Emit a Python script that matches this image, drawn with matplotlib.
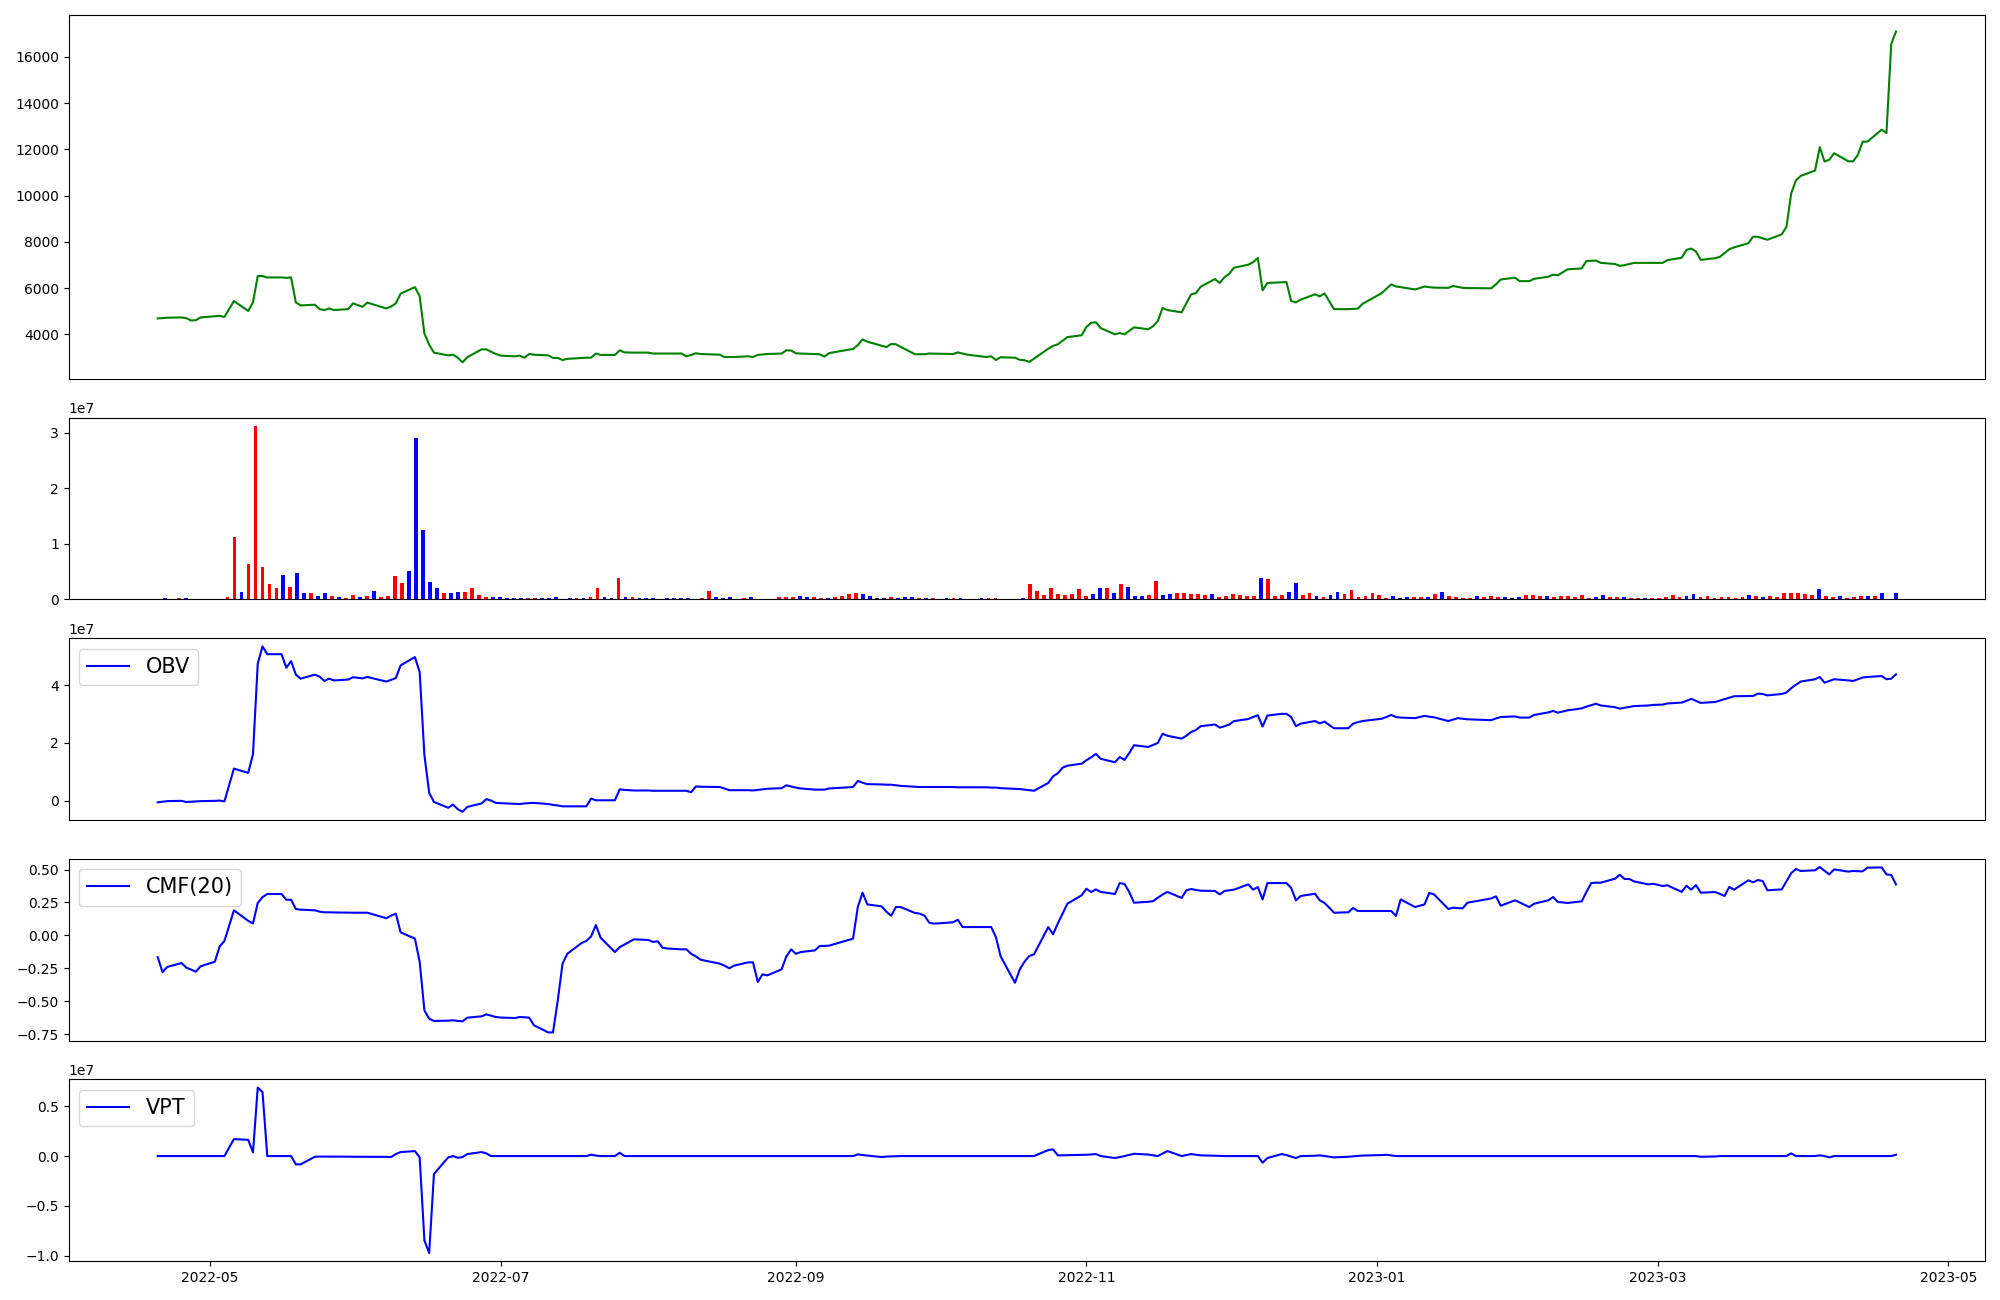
import numpy as np
import pandas as pd
import matplotlib
matplotlib.use("Agg")
import matplotlib.pyplot as plt

start_date = "2022-04-20"
end_date = "2023-04-20"
# exchange holidays (no trading) inside the period
holidays = ["2022-05-05", "2022-06-01", "2022-06-06", "2022-08-15",
            "2022-09-09", "2022-09-12", "2022-10-03", "2022-10-10",
            "2022-12-30", "2023-01-23", "2023-01-24", "2023-03-01"]

close = [
    4690, 4700, 4720, 4730, 4700, 4600, 4610, 4730, 4780, 4800,
    4750, 5440, 5010, 5380, 6520, 6520, 6460, 6460, 6440, 6460,
    5380, 5250, 5280, 5090, 5050, 5120, 5050, 5090, 5340, 5190,
    5370, 5120, 5200, 5340, 5760, 6040, 5650, 4030, 3550, 3210,
    3090, 3120, 2990, 2790, 3010, 3350, 3350, 3250, 3150, 3080,
    3050, 3080, 2990, 3150, 3120, 3090, 2980, 2980, 2890, 2940,
    2980, 2990, 2990, 3170, 3110, 3110, 3310, 3220, 3215, 3210,
    3210, 3170, 3170, 3170, 3170, 3170, 3050, 3110, 3180, 3150,
    3120, 3020, 3020, 3020, 3050, 3020, 3110, 3130, 3150, 3170,
    3310, 3300, 3180, 3170, 3150, 3140, 3040, 3190, 3370, 3530,
    3780, 3680, 3510, 3450, 3580, 3570, 3460, 3140, 3140, 3140,
    3170, 3165, 3150, 3220, 3170, 3120, 3020, 3050, 2890, 3010,
    2990, 2900, 2880, 2810, 2950, 3380, 3500, 3570, 3720, 3880,
    3960, 4320, 4500, 4520, 4270, 4000, 4060, 4000, 4150, 4300,
    4220, 4350, 4580, 5140, 5050, 4950, 5350, 5730, 5780, 6060,
    6390, 6220, 6470, 6620, 6880, 7010, 7120, 7300, 5900, 6220,
    6250, 6260, 5440, 5380, 5500, 5730, 5640, 5770, 5430, 5090,
    5090, 5100, 5110, 5320, 5780, 5970, 6160, 6070, 6040, 5940,
    6000, 6070, 6040, 6020, 6010, 6090, 6050, 6010, 6000, 5990,
    6160, 6370, 6450, 6300, 6300, 6300, 6400, 6490, 6580, 6550,
    6680, 6810, 6850, 7170, 7180, 7190, 7090, 7040, 6960, 6990,
    7040, 7090, 7090, 7090, 7090, 7210, 7310, 7650, 7710, 7580,
    7220, 7290, 7350, 7510, 7680, 7760, 7940, 8220, 8220, 8150,
    8090, 8320, 8650, 10100, 10660, 10850, 11080, 12090, 11470, 11550,
    11830, 11480, 11480, 11760, 12330, 12330, 12850, 12700, 16550, 17090,
]

# volume in millions of shares
volume_m = [
    0, 0.24, 0, 0.24, 0.24, 0, 0, 0, 0, 0,
    0.4, 11.2, 1.3, 6.4, 31.2, 5.8, 2.8, 2.0, 4.4, 2.2,
    4.7, 1.1, 1.1, 0.6, 1.1, 0.6, 0.4, 0.2, 0.8, 0.4,
    0.6, 1.5, 0.4, 0.6, 4.2, 2.9, 5.1, 29.1, 12.5, 3.1,
    2.0, 1.1, 1.1, 1.3, 1.3, 2.0, 0.8, 0.4, 0.4, 0.4,
    0.2, 0.2, 0.2, 0.2, 0.2, 0.2, 0.2, 0.4, 0, 0.2,
    0.2, 0.2, 0.4, 2.0, 0.4, 0.2, 3.8, 0.4, 0.4, 0.2,
    0.2, 0.2, 0, 0.2, 0.2, 0.2, 0.2, 0, 0.2, 1.5,
    0.4, 0.2, 0.4, 0, 0.2, 0.4, 0, 0, 0, 0.4,
    0.4, 0.4, 0.6, 0.4, 0.4, 0.2, 0.2, 0.4, 0.6, 1.0,
    1.1, 1.0, 0.6, 0.2, 0.2, 0.4, 0.2, 0.4, 0.4, 0.2,
    0.2, 0.2, 0, 0.2, 0.2, 0.2, 0, 0, 0.2, 0.2,
    0.2, 0, 0, 0, 0.2, 2.8, 1.5, 0.8, 2.0, 1.0,
    0.8, 1.0, 1.9, 0.6, 1.0, 2.0, 2.0, 1.1, 2.8, 2.2,
    0.6, 0.6, 0.8, 3.3, 0.8, 1.0, 1.1, 1.1, 1.0, 1.0,
    0.8, 1.0, 0.4, 0.6, 1.0, 0.8, 0.6, 0.6, 3.8, 3.7,
    0.6, 0.8, 1.3, 2.9, 0.8, 1.1, 0.6, 0.4, 0.8, 1.3,
    1.0, 1.7, 0.4, 0.6, 1.1, 0.8, 0.2, 0.6, 0.2, 0.4,
    0.4, 0.4, 0.4, 1.0, 1.3, 0.6, 0.4, 0.2, 0.2, 0.6,
    0.4, 0.6, 0.4, 0.4, 0.2, 0.4, 0.8, 0.8, 0.6, 0.6,
    0.4, 0.6, 0.6, 0.4, 0.8, 0.2, 0.4, 0.8, 0.4, 0.4,
    0.4, 0.2, 0.2, 0.2, 0.2, 0.2, 0.4, 0.8, 0.4, 0.6,
    1.0, 0.4, 0.6, 0.2, 0.4, 0.4, 0.2, 0.4, 0.8, 0.6,
    0.4, 0.6, 0.4, 1.1, 1.1, 1.1, 1.0, 0.8, 1.9, 0.6,
    0.4, 0.6, 0.2, 0.4, 0.6, 0.6, 0.6, 1.1, 0, 1.1,
]

# 1 = up day (red), -1 = down day (blue), 0 = unchanged (black)
bar_dir = [
    0, -1, 0, 1, -1, 0, 0, 0, 0, 0,
    1, 1, -1, 1, 1, 1, 1, 1, -1, 1,
    -1, -1, 1, -1, -1, 1, -1, 1, 1, -1,
    1, -1, 1, 1, 1, 1, -1, -1, -1, -1,
    -1, 1, -1, -1, 1, 1, 1, 1, -1, -1,
    -1, -1, -1, 1, 1, -1, -1, -1, 0, -1,
    1, -1, 1, 1, -1, -1, 1, -1, 1, -1,
    -1, -1, 0, -1, -1, -1, -1, 0, 1, 1,
    -1, -1, -1, 0, 1, -1, 0, 0, 0, 1,
    1, 1, -1, -1, 1, 1, -1, 1, 1, 1,
    1, -1, -1, 0, -1, 1, -1, -1, -1, 1,
    -1, 1, 0, -1, 1, -1, 0, 0, -1, 1,
    1, 0, 0, 0, -1, 1, 1, 1, 1, 1,
    1, 1, 1, 1, -1, -1, 1, -1, 1, -1,
    -1, -1, 1, 1, -1, -1, 1, 1, 1, 1,
    1, -1, 1, 1, 1, 1, 1, 1, -1, 1,
    1, 1, -1, -1, 1, 1, -1, 1, -1, -1,
    1, 1, 1, 1, 1, 1, 1, -1, 0, -1,
    1, 1, -1, 1, -1, 1, 1, 1, 1, -1,
    1, 1, 1, -1, 0, -1, 1, 1, 1, -1,
    1, 1, 1, 1, 1, 1, -1, -1, 1, 1,
    -1, 1, 1, -1, 1, 1, 1, 1, 1, -1,
    -1, 1, 1, 1, 1, 1, 1, 1, -1, 1,
    -1, 1, 1, 1, 1, 1, 1, 1, -1, 1,
    1, -1, 1, 1, 1, -1, 1, -1, 0, -1,
]

# OBV in units of 1e7
obv_e7 = [
    -0.06, -0.04, -0.02, -0.01, -0.05, -0.04, -0.03, -0.02, -0.01, 0.0,
    -0.03, 1.11, 0.96, 1.61, 4.75, 5.35, 5.08, 5.08, 4.61, 4.84,
    4.37, 4.23, 4.37, 4.30, 4.15, 4.23, 4.17, 4.20, 4.28, 4.24,
    4.29, 4.13, 4.19, 4.25, 4.69, 4.98, 4.46, 1.57, 0.27, -0.05,
    -0.25, -0.14, -0.30, -0.39, -0.22, -0.10, 0.05, 0.0, -0.08, -0.09,
    -0.11, -0.12, -0.10, -0.09, -0.08, -0.12, -0.15, -0.17, -0.20, -0.20,
    -0.20, -0.20, 0.07, 0.01, 0.01, 0.01, 0.39, 0.37, 0.36, 0.35,
    0.35, 0.34, 0.34, 0.34, 0.34, 0.34, 0.34, 0.29, 0.49, 0.48,
    0.47, 0.42, 0.36, 0.36, 0.36, 0.35, 0.37, 0.39, 0.41, 0.43,
    0.53, 0.49, 0.45, 0.42, 0.38, 0.38, 0.38, 0.42, 0.47, 0.68,
    0.62, 0.57, 0.56, 0.55, 0.55, 0.53, 0.51, 0.48, 0.47, 0.47,
    0.47, 0.47, 0.47, 0.46, 0.46, 0.46, 0.46, 0.45, 0.45, 0.43,
    0.41, 0.40, 0.38, 0.36, 0.34, 0.61, 0.84, 0.95, 1.14, 1.21,
    1.28, 1.40, 1.50, 1.62, 1.45, 1.33, 1.51, 1.41, 1.65, 1.92,
    1.86, 1.93, 2.00, 2.32, 2.25, 2.15, 2.25, 2.38, 2.45, 2.58,
    2.64, 2.53, 2.58, 2.64, 2.76, 2.83, 2.90, 2.96, 2.57, 2.95,
    3.01, 3.01, 2.90, 2.58, 2.67, 2.76, 2.68, 2.74, 2.62, 2.51,
    2.51, 2.67, 2.72, 2.76, 2.84, 2.90, 2.97, 2.90, 2.88, 2.86,
    2.90, 2.94, 2.91, 2.89, 2.76, 2.81, 2.86, 2.84, 2.82, 2.79,
    2.85, 2.90, 2.92, 2.88, 2.88, 2.88, 2.97, 3.06, 3.11, 3.05,
    3.09, 3.13, 3.20, 3.26, 3.31, 3.36, 3.30, 3.24, 3.19, 3.22,
    3.25, 3.28, 3.30, 3.32, 3.33, 3.37, 3.40, 3.46, 3.53, 3.46,
    3.39, 3.42, 3.47, 3.52, 3.57, 3.62, 3.63, 3.63, 3.71, 3.70,
    3.65, 3.70, 3.75, 3.90, 4.02, 4.13, 4.21, 4.29, 4.09, 4.15,
    4.21, 4.17, 4.15, 4.21, 4.27, 4.29, 4.32, 4.21, 4.23, 4.38,
]

cmf20 = [
    -0.165, -0.28, -0.24, -0.21, -0.245, -0.26, -0.276, -0.235, -0.20, -0.084,
    -0.043, 0.19, 0.11, 0.09, 0.246, 0.29, 0.314, 0.314, 0.27, 0.27,
    0.20, 0.195, 0.19, 0.18, 0.175, 0.175, 0.174, 0.172, 0.172, 0.172,
    0.172, 0.13, 0.15, 0.165, 0.023, -0.025, -0.20, -0.57, -0.633, -0.65,
    -0.648, -0.645, -0.65, -0.653, -0.625, -0.615, -0.60, -0.61, -0.62, -0.624,
    -0.628, -0.62, -0.622, -0.625, -0.683, -0.737, -0.737, -0.494, -0.215, -0.14,
    -0.058, -0.043, -0.008, 0.078, -0.018, -0.127, -0.089, -0.07, -0.05, -0.03,
    -0.035, -0.05, -0.045, -0.094, -0.10, -0.106, -0.106, -0.14, -0.16, -0.185,
    -0.215, -0.23, -0.25, -0.23, -0.205, -0.205, -0.354, -0.296, -0.304, -0.258,
    -0.16, -0.106, -0.14, -0.127, -0.114, -0.081, -0.08, -0.078, -0.025, 0.215,
    0.324, 0.235, 0.22, 0.18, 0.149, 0.215, 0.215, 0.17, 0.165, 0.15,
    0.096, 0.089, 0.099, 0.119, 0.063, 0.063, 0.063, 0.063, -0.013, -0.16,
    -0.36, -0.26, -0.20, -0.157, -0.144, 0.063, 0.008, 0.09, 0.165, 0.24,
    0.304, 0.354, 0.329, 0.349, 0.33, 0.314, 0.397, 0.39, 0.329, 0.248,
    0.255, 0.26, 0.286, 0.31, 0.33, 0.284, 0.342, 0.352, 0.345, 0.339,
    0.337, 0.311, 0.337, 0.342, 0.347, 0.387, 0.347, 0.367, 0.273, 0.397,
    0.397, 0.397, 0.36, 0.266, 0.299, 0.316, 0.266, 0.246, 0.21, 0.172,
    0.175, 0.208, 0.185, 0.185, 0.185, 0.185, 0.185, 0.147, 0.273, 0.215,
    0.225, 0.235, 0.322, 0.311, 0.20, 0.21, 0.207, 0.205, 0.248, 0.28,
    0.296, 0.225, 0.266, 0.25, 0.232, 0.215, 0.24, 0.266, 0.291, 0.253,
    0.25, 0.246, 0.258, 0.33, 0.397, 0.40, 0.40, 0.43, 0.46, 0.428,
    0.428, 0.41, 0.387, 0.392, 0.375, 0.38, 0.33, 0.377, 0.347, 0.382,
    0.324, 0.329, 0.315, 0.299, 0.367, 0.347, 0.418, 0.403, 0.42, 0.413,
    0.342, 0.349, 0.41, 0.473, 0.504, 0.489, 0.494, 0.519, 0.49, 0.463,
    0.501, 0.484, 0.489, 0.487, 0.486, 0.514, 0.516, 0.463, 0.458, 0.387,
]

# VPT in units of 1e7
vpt_e7 = [
    0, 0, 0, 0, 0, 0, 0, 0, 0, 0,
    0, 0.17, 0.163, 0.037, 0.687, 0.643, 0, 0, 0, 0,
    -0.083, -0.083, -0.007, -0.005, -0.005, -0.005, -0.006, -0.006, -0.007, -0.007,
    -0.008, -0.008, -0.01, 0.02, 0.04, 0.05, -0.013, -0.847, -0.973, -0.18,
    -0.013, 0, -0.017, -0.01, 0.02, 0.04, 0.027, 0, 0, 0,
    0, 0, 0, 0, 0, 0, 0, 0, 0, 0,
    0, 0, 0.013, 0.005, 0, 0, 0.033, 0, 0, 0,
    0, 0, 0, 0, 0, 0, 0, 0, 0, 0,
    0, 0, 0, 0, 0, 0, 0, 0, 0, 0,
    0, 0, 0, 0, 0, 0, 0, 0, 0, 0.017,
    0.01, 0.005, -0.01, -0.005, -0.003, 0, 0, 0, 0, 0,
    0, 0, 0, 0, 0, 0, 0, 0, 0, 0,
    0, 0, 0, 0, 0, 0.06, 0.067, 0.007, 0.008, 0.01,
    0.012, 0.013, 0.016, 0.02, 0, -0.02, -0.01, 0, 0.012, 0.023,
    0.015, 0.008, 0, 0.025, 0.05, 0, 0.01, 0.02, 0.013, 0.007,
    0.004, 0.002, 0, 0, 0, 0, 0, 0, -0.067, -0.02,
    0.02, 0.01, -0.005, -0.02, 0, 0.003, 0.007, 0, -0.007, -0.013,
    -0.007, -0.003, 0, 0.005, 0.01, 0.013, 0.006, 0, 0, 0,
    0, 0, 0, 0, 0, 0, 0, 0, 0, 0,
    0, 0, 0, 0, 0, 0, 0, 0, 0, 0,
    0, 0, 0, 0, 0, 0, 0, 0, 0, 0,
    0, 0, 0, 0, 0, 0, 0, 0, 0, 0,
    -0.007, -0.004, 0, 0, 0, 0, 0, 0, 0, 0,
    0, 0, 0, 0.027, 0, 0, 0, 0.007, 0, -0.013,
    0, 0, 0, 0, 0, 0, 0, 0, 0, 0.013,
]

# trading days for the line series, evenly spread positions for the bars
trade_dates = pd.bdate_range(start_date, end_date, freq="C", holidays=holidays)
bar_dates = pd.date_range(start_date, end_date, periods=len(volume_m))

volume = np.array(volume_m) * 1e6
obv = np.array(obv_e7) * 1e7
vpt = np.array(vpt_e7) * 1e7
bar_colors = ['red' if d > 0 else 'blue' if d < 0 else 'black' for d in bar_dir]

fig, axes = plt.subplots(5, 1, figsize=(20, 13), sharex=True,
                         gridspec_kw={'height_ratios': [2, 1, 1, 1, 1]})

axes[0].plot(trade_dates, close, color='green')
axes[1].bar(bar_dates, volume, color=bar_colors)
axes[2].plot(trade_dates, obv, color='blue', label='OBV')
axes[3].plot(trade_dates, cmf20, color='blue', label='CMF(20)')
axes[4].plot(trade_dates, vpt, color='blue', label='VPT')

for ax in axes[2:]:
    ax.legend(loc='upper left', fontsize=15)
for ax in axes[:4]:
    ax.tick_params(axis='x', bottom=False)

plt.tight_layout()
plt.savefig('out.png', dpi=100)
